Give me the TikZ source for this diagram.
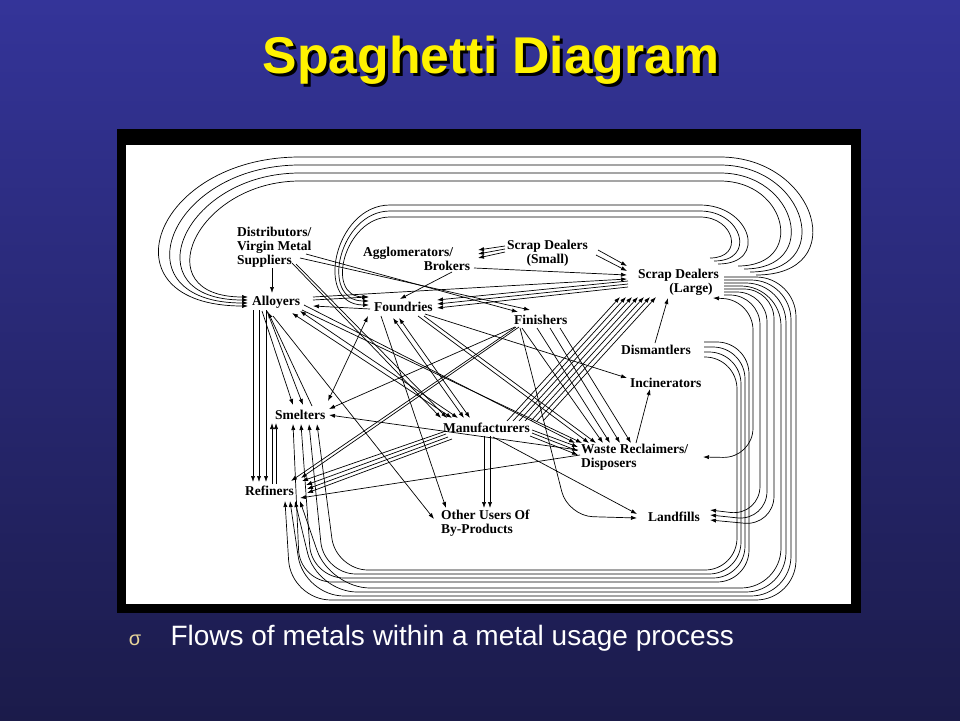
\documentclass[tikz,border=0pt]{standalone}
\usepackage{fontspec}
\setmainfont{Liberation Serif}
\newfontfamily\slidefont{Liberation Sans}
\usetikzlibrary{arrows.meta}
\definecolor{slidetop}{HTML}{343499}
\definecolor{slidebot}{HTML}{1B1B4A}
\definecolor{bulletc}{HTML}{E6D49A}
\tikzset{
  actor/.style={font=\bfseries\fontsize{13.5}{14}\selectfont, inner sep=1pt, anchor=west, align=left},
  headline/.style={font=\slidefont\bfseries\fontsize{51.7}{60}\selectfont, anchor=base},
  flow/.style={-{Latex[length=6pt,width=4.2pt]}, line width=0.7pt},
  twoway/.style={{Latex[length=6pt,width=4.2pt]}-{Latex[length=6pt,width=4.2pt]}, line width=0.7pt},
}
\begin{document}
\begin{tikzpicture}[x=1pt,y=-1pt]
  \useasboundingbox (0,0) rectangle (960,720);
  \shade[top color=slidetop, bottom color=slidebot] (0,0) rectangle (960,720);
  \node[headline, text=black] (shadow) at (494,76) {Spaghetti Diagram};
  \node[headline, text=yellow] (title) at (491,73) {Spaghetti Diagram};
  \fill[black] (117,129) rectangle (861,613);
  \fill[white] (126,145) rectangle (851,604);

  \node[actor] (dist)   at (236,247) {Distributors/\\Virgin Metal\\Suppliers};
  \node[actor] (alloy)  at (251,302) {Alloyers};
  \node[actor] (aggl)   at (362,259) {Agglomerators/\\\hspace*{4.5em}Brokers};
  \node[actor, align=center] (ssmall) at (506,253) {Scrap Dealers\\(Small)};
  \node[actor] (slarge) at (637,282) {Scrap Dealers\\\hspace*{2.3em}(Large)};
  \node[actor] (found)  at (373,307) {Foundries};
  \node[actor] (finish) at (513,320) {Finishers};
  \node[actor] (dism)   at (620,350) {Dismantlers};
  \node[actor] (incin)  at (629,383) {Incinerators};
  \node[actor] (smelt)  at (274,415) {Smelters};
  \node[actor] (manuf)  at (442,428) {Manufacturers};
  \node[actor] (waste)  at (580,457) {Waste Reclaimers/\\Disposers};
  \node[actor] (refin)  at (244,491) {Refiners};
  \node[actor] (other)  at (440,523) {Other Users Of\\By-Products};
  \node[actor] (landf)  at (647,517) {Landfills};

  \node[anchor=base, text=bulletc, font=\slidefont\fontsize{20}{24}\selectfont] (mark) at (135,645) {σ};
  \node[anchor=base west, text=white, font=\slidefont\fontsize{28}{32}\selectfont] (caption) at (167,645) {Flows of metals within a metal usage process};

  % big loops over the top
  \foreach \i [evaluate=\i as \lo using 2.1+0.1*\i] in {0,...,3}
    \draw[flow] ([shift={(101+6*\i,-16+3*\i)}]slarge.west)
      to[out=0,in=0,looseness=2] (720,181-8*\i) -- (300,181-8*\i)
      to[out=180,in=180,looseness=\lo] ([shift={(-3,-5+3*\i)}]alloy.west);
  \foreach \i in {0,1,2}
    \draw[flow] ([shift={(73+4*\i,-24+3*\i)}]slarge.west)
      to[out=0,in=0,looseness=2.1] (700,217-6*\i) -- (390,217-6*\i)
      to[out=180,in=180,looseness=1.4] ([shift={(-4,-10+4*\i)}]found.west);

  % loops round the right and the bottom
  \foreach \i in {0,...,3}
    \draw[flow, rounded corners=32pt] ([shift={(84,-8+5*\i)}]dism.west)
      -- (749-4*\i,342+5*\i) -- (749-4*\i,582-4*\i) -- (300+12*\i,582-4*\i)
      -- ([shift={(19+8*\i,9)}]smelt.west);
  \foreach \k in {0,...,3}
    \draw[flow, rounded corners=40pt] ([shift={(87,4-3*\k)}]slarge.west)
      -- (781+5*\k,286-3*\k) -- (781+5*\k,588+4*\k) -- (330-13*\k,588+4*\k)
      -- ([shift={(56-5*\k,10)}]refin.west);
  \foreach \m in {0,1,2}
    \draw[flow, rounded corners=30pt] ([shift={(87,13-3*\m)}]slarge.west)
      -- (760+7*\m,295-3*\m) -- (760+7*\m,516+5*\m) -- ([shift={(63,-7+5*\m)}]landf.west);
  \draw[twoway, rounded corners=30pt] ([shift={(76,16)}]slarge.west)
    -- (753,300) -- (753,458) -- ([shift={(123,0)}]waste.west);

  % straight flows
  \draw[flow] ([shift={(36,21)}]dist.west) -- ([shift={(21,-9)}]alloy.west);
  \draw[flow] ([shift={(90,13)}]aggl.west) -- ([shift={(27,-8)}]found.west);
  \draw[flow] ([shift={(112,9)}]aggl.west) -- ([shift={(-10,-7)}]slarge.west);
  \draw[flow] ([shift={(62,-5)}]alloy.west) -- ([shift={(-10,-3)}]slarge.west);
  \draw[flow] ([shift={(62,-2)}]alloy.west) -- ([shift={(-5,-10)}]found.west);
  \draw[flow] ([shift={(-3,2)}]found.west) -- ([shift={(62,4)}]alloy.west);
  \draw[flow] ([shift={(0,-2)}]waste.west) -- ([shift={(56,7)}]refin.west);
  \draw[flow] ([shift={(-2,-7)}]waste.west) -- ([shift={(55,0)}]smelt.west);
  \draw[flow] ([shift={(2,7)}]finish.west) -- ([shift={(55,-6)}]smelt.west);
  \draw[twoway] ([shift={(-5,9)}]found.west) -- ([shift={(54,-14)}]smelt.west);
  \draw[flow] ([shift={(38,-9)}]smelt.west) -- ([shift={(17,10)}]alloy.west);
  \draw[flow] ([shift={(8,9)}]found.west) -- ([shift={(6,-15)}]other.west);
  \draw[flow] ([shift={(22,14)}]alloy.west) -- ([shift={(-6,-4)}]other.west);
  \draw[flow] ([shift={(52,7)}]found.west) -- ([shift={(-2,-5)}]incin.west);
  \draw[flow] ([shift={(56,-14)}]waste.west) -- ([shift={(21,6)}]incin.west);
  \draw[flow] ([shift={(35,-7)}]dism.west) -- ([shift={(31,16)}]slarge.west);
  \draw[flow] ([shift={(51,9)}]manuf.west) -- ([shift={(-10,-3)}]landf.west);
  \draw[flow, rounded corners=25pt] ([shift={(7,8)}]finish.west) -- (568,516) -- ([shift={(-10,1)}]landf.west);

  % bundles
  \foreach \a/\b/\c/\d in {70/7/5/-8, 64/11/17/-10}
    \draw[flow] ([shift={(\a,\b)}]dist.west) -- ([shift={(\c,\d)}]finish.west);
  \foreach \a/\b/\c/\d in {56/16/-1/-10, 60/17/5/-10}
    \draw[flow] ([shift={(\a,\b)}]dist.west) -- ([shift={(\c,\d)}]manuf.west);
  \foreach \a/\b/\c/\d in {-1/-7/116/-9, -1/-4/116/-5, -1/-1/116/-1}
    \draw[flow] ([shift={(\a,\b)}]ssmall.west) -- ([shift={(\c,\d)}]aggl.west);
  \foreach \a/\b/\c/\d in {92/-3/-10/-16, 90/2/-10/-11}
    \draw[flow] ([shift={(\a,\b)}]ssmall.west) -- ([shift={(\c,\d)}]slarge.west);
  \foreach \a/\b/\c/\d in {-9/-1/64/-7, -9/2/64/-3, -9/5/64/1}
    \draw[flow] ([shift={(\a,\b)}]slarge.west) -- ([shift={(\c,\d)}]found.west);
  \foreach \k in {0,...,6}
    \draw[flow] ([shift={(65+6*\k,-7)}]manuf.west) -- ([shift={(-17+6*\k,15)}]slarge.west);
  \foreach \a/\b/\c/\d in {4/3/58/-10, 4/6/62/-6, 6/9/63/-2, 10/11/63/2}
    \draw[flow] ([shift={(\a,\b)}]manuf.west) -- ([shift={(\c,\d)}]refin.west);
  \foreach \a/\b/\c/\d in {3/7/47/-10, 6/7/57/-13}
    \draw[flow] ([shift={(\a,\b)}]finish.west) -- ([shift={(\c,\d)}]refin.west);
  \foreach \a/\b/\c/\d in {11/9/19/-10, 16/9/29/-10}
    \draw[flow] ([shift={(\a,\b)}]alloy.west) -- ([shift={(\c,\d)}]smelt.west);
  \foreach \a/\b/\c/\d in {41/11/10/-10, 49/9/16/-10}
    \draw[twoway] ([shift={(\a,\b)}]alloy.west) -- ([shift={(\c,\d)}]manuf.west);
  \foreach \a/\b/\c/\d in {20/11/22/-10, 26/11/28/-10}
    \draw[twoway] ([shift={(\a,\b)}]found.west) -- ([shift={(\c,\d)}]manuf.west);
  \foreach \a/\b/\c/\d in {53/3/-5/-14, 51/8/2/-14}
    \draw[flow] ([shift={(\a,\b)}]alloy.west) -- ([shift={(\c,\d)}]waste.west);
  \foreach \a/\b/\c/\d in {45/9/9/-14, 51/9/16/-14}
    \draw[flow] ([shift={(\a,\b)}]found.west) -- ([shift={(\c,\d)}]waste.west);
  \foreach \a/\b/\c/\d in {9/8/23/-14, 24/8/30/-14, 37/8/40/-14, 47/8/51/-14}
    \draw[flow] ([shift={(\a,\b)}]finish.west) -- ([shift={(\c,\d)}]waste.west);
  \foreach \a/\b/\c/\d in {42/8/44/-15, 48/8/50/-15}
    \draw[flow] ([shift={(\a,\b)}]manuf.west) -- ([shift={(\c,\d)}]other.west);
  \foreach \a/\b/\c/\d in {90/2/-2/-10, 90/5/-2/-6, 88/8/-2/-2}
    \draw[flow] ([shift={(\a,\b)}]manuf.west) -- ([shift={(\c,\d)}]waste.west);
  \foreach \a/\b/\c/\d in {2/8/9/-9, 8/8/15/-9, 15/8/22/-9}
    \draw[flow] ([shift={(\a,\b)}]alloy.west) -- ([shift={(\c,\d)}]refin.west);
  \foreach \a/\b/\c/\d in {28/-7/-2/8, 32/-7/2/8}
    \draw[flow] ([shift={(\a,\b)}]refin.west) -- ([shift={(\c,\d)}]smelt.west);
\end{tikzpicture}
\end{document}
